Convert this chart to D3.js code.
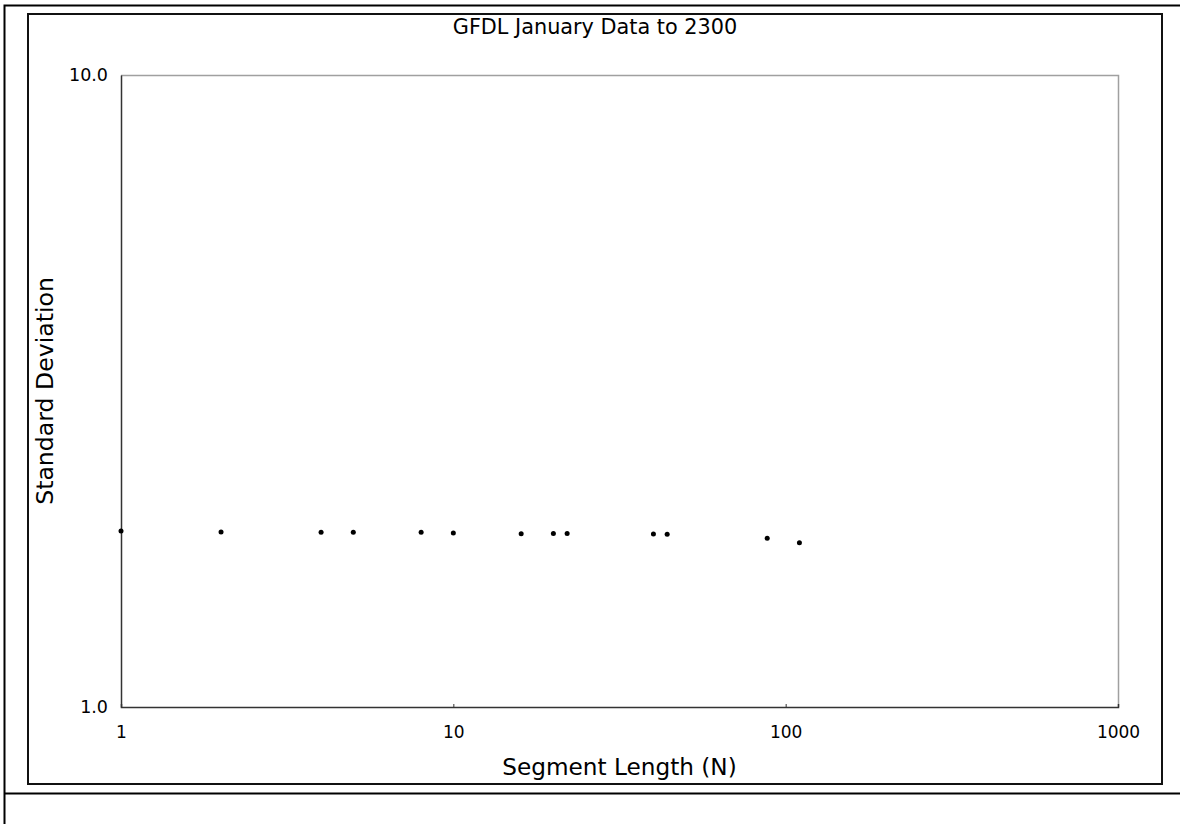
<!DOCTYPE html>
<html><head><meta charset="utf-8">
<script src="https://cdn.jsdelivr.net/npm/d3@7"></script>
<style>body{margin:0;background:#fff}svg{display:block}text{font-family:Verdana,"DejaVu Sans",sans-serif;fill:#000}</style>
</head><body>
<script>
const segmentLength = [1, 2, 4, 5, 8, 10, 16, 20, 22, 40, 44, 88, 110];
const stdDev = [1.899, 1.892, 1.890, 1.890, 1.890, 1.885, 1.880, 1.882, 1.882, 1.878, 1.876, 1.849, 1.820];
const xTicks = [1, 10, 100, 1000];
const xTickLabels = ["1", "10", "100", "1000"];
const yTicks = [1, 10];
const yTickLabels = ["1.0", "10.0"];
const chartTitle = "GFDL January Data to 2300";
const xTitle = "Segment Length (N)";
const yTitle = "Standard Deviation";

const W = 1180, H = 824;
const svg = d3.select("body").append("svg").attr("width", W).attr("height", H);

// outer frame lines
svg.append("path").attr("d", "M4.5,824 V5.5 H1180 M4.5,793.5 H1180")
  .attr("fill", "none").attr("stroke", "#000").attr("stroke-width", 2);
// inner chart frame
svg.append("rect").attr("x", 28).attr("y", 14).attr("width", 1134).attr("height", 770)
  .attr("fill", "none").attr("stroke", "#111").attr("stroke-width", 2);

const L = 121, R = 1118, T = 75, B = 707;
const x = d3.scaleLog().domain([1, 1000]).range([L, R]);
const y = d3.scaleLog().domain([1, 10]).range([B, T]);

// plot border: top and right grey
svg.append("path").attr("d", `M${L},${T + 0.5} H${R + 0.5} V${B}`)
  .attr("fill", "none").attr("stroke", "#a0a0a0").attr("stroke-width", 1.5);

const xAxis = d3.axisBottom(x).tickValues(xTicks).tickSize(-3).tickPadding(19)
  .tickFormat((d, i) => xTickLabels[i]);
const gx = svg.append("g").attr("transform", `translate(0,${B})`).call(xAxis);
gx.select(".domain").attr("stroke", "#333").attr("stroke-width", 1.5);
gx.selectAll(".tick line").attr("stroke", "#333");
gx.selectAll("text").attr("font-size", 17).style("font-family", 'Verdana,"DejaVu Sans",sans-serif');

const yAxis = d3.axisLeft(y).tickValues(yTicks).tickSize(0).tickPadding(13)
  .tickFormat((d, i) => yTickLabels[i]);
const gy = svg.append("g").attr("transform", `translate(${L},0)`).call(yAxis);
gy.select(".domain").attr("stroke", "#333").attr("stroke-width", 1.5);
gy.selectAll("text").attr("font-size", 17.5).style("font-family", 'Verdana,"DejaVu Sans",sans-serif');

svg.append("g").selectAll("circle").data(segmentLength).join("circle")
  .attr("cx", d => x(d)).attr("cy", (d, i) => y(stdDev[i])).attr("r", 2.5).attr("fill", "#000");

svg.append("text").attr("x", 595).attr("y", 34).attr("text-anchor", "middle")
  .attr("font-size", 20.8).text(chartTitle);
svg.append("text").attr("x", (L + R) / 2).attr("y", 775).attr("text-anchor", "middle")
  .attr("font-size", 23.2).text(xTitle);
svg.append("text").attr("transform", `translate(53,${(T + B) / 2}) rotate(-90)`)
  .attr("text-anchor", "middle").attr("font-size", 23.6).text(yTitle);
</script>
</body></html>
